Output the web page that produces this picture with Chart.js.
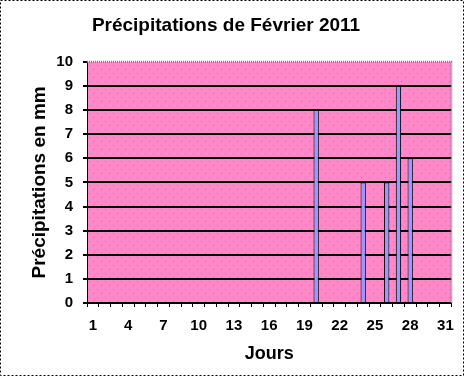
<!DOCTYPE html>
<html>
<head>
<meta charset="utf-8">
<script src="https://cdn.jsdelivr.net/npm/chart.js@4/dist/chart.umd.min.js"></script>
<style>
html,body{margin:0;padding:0;background:#fff;}
canvas{display:block;}
</style>
</head>
<body>
<canvas id="c" width="464" height="376"></canvas>
<script>
const DAYS = Array.from({length:31},(_,i)=>String(i+1));
const RAIN = [0,0,0,0,0,0,0,0,0,0,0,0,0,0,0,0,0,0,0,8,0,0,0,5,0,5,9,6,0,0,0];
const TITLE = 'Précipitations de Février 2011';
const Y_TITLE = 'Précipitations en mm';
const X_TITLE = 'Jours';
const FONT = '"Liberation Sans", Arial, sans-serif';

function dotPattern(){
  const p=document.createElement('canvas'); p.width=8; p.height=8;
  const g=p.getContext('2d');
  g.fillStyle='#ff88c8'; g.fillRect(0,0,8,8);
  g.fillStyle='#e8609e'; g.fillRect(1,1,1,1); g.fillRect(5,5,1,1);
  return g.createPattern(p,'repeat');
}

const plotBg = {
  id:'plotBg',
  beforeDraw(chart){
    const {ctx,chartArea:a}=chart;
    ctx.save();
    ctx.fillStyle=dotPattern();
    ctx.fillRect(a.left,a.top,a.right-a.left,a.bottom-a.top);
    ctx.restore();
  },
  afterDraw(chart){
    const {ctx,chartArea:a,width,height}=chart;
    ctx.save();
    ctx.strokeStyle='#808080'; ctx.lineWidth=2; ctx.setLineDash([1,1]);
    ctx.beginPath(); ctx.moveTo(a.left,a.top); ctx.lineTo(a.right,a.top); ctx.lineTo(a.right,a.bottom); ctx.stroke();
    ctx.strokeStyle='#000'; ctx.lineWidth=1; ctx.setLineDash([2,2]);
    ctx.strokeRect(0.5,0.5,width-1,height-1);
    ctx.restore();
  }
};

new Chart(document.getElementById('c'),{
  type:'bar',
  data:{labels:DAYS,datasets:[{data:RAIN,backgroundColor:'#9999ff',borderColor:'#000',borderWidth:1,
    barPercentage:0.45,categoryPercentage:1}]},
  options:{
    responsive:false,animation:false,
    layout:{padding:{left:0,right:12,top:0,bottom:0}},
    plugins:{
      legend:{display:false},tooltip:{enabled:false},
      title:{display:true,text:TITLE,color:'#000',font:{family:FONT,size:19,weight:'bold'},padding:{top:14,bottom:25}}
    },
    scales:{
      x:{
        grid:{offset:true,drawOnChartArea:false,color:'#000',tickLength:4},
        border:{color:'#000',width:1},
        ticks:{autoSkip:false,maxRotation:0,color:'#000',font:{family:FONT,size:15,weight:'bold'},padding:10,
          callback:(v,i)=>i%3===0?DAYS[i]:''},
        title:{display:true,text:X_TITLE,color:'#000',font:{family:FONT,size:18,weight:'bold'},padding:{top:4,bottom:11}},
        afterFit(s){s.height=73;}
      },
      y:{
        min:0,max:10,
        grid:{color:c=>c.tick.value===10?'rgba(0,0,0,0)':'#000',lineWidth:2,tickLength:4,tickColor:'#000'},
        border:{color:'#000',width:1},
        ticks:{stepSize:1,color:'#000',font:{family:FONT,size:15,weight:'bold'},padding:10},
        title:{display:true,text:Y_TITLE,color:'#000',font:{family:FONT,size:19,weight:'bold'},padding:{top:28,bottom:0}},
        afterFit(s){s.width=87;}
      }
    }
  },
  plugins:[plotBg]
});
</script>
</body>
</html>
